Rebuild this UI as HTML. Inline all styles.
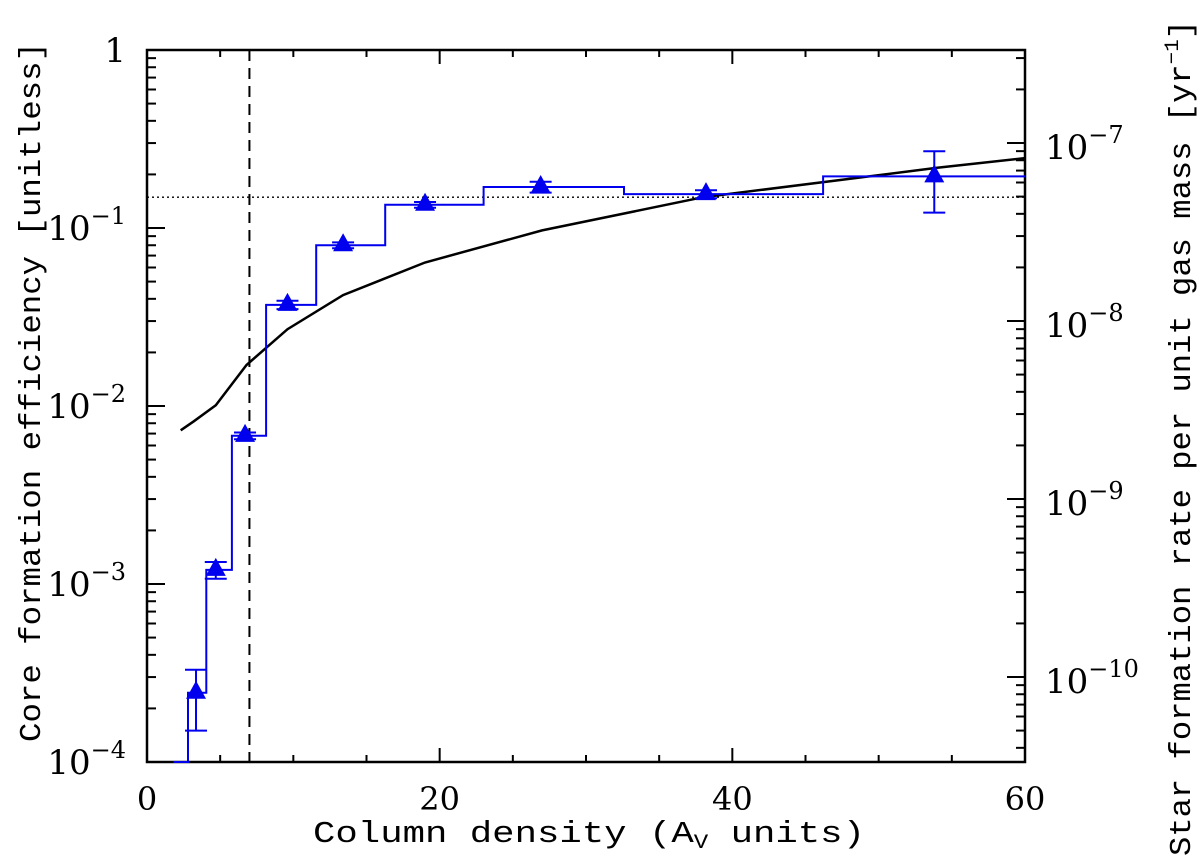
<!DOCTYPE html>
<html><head><meta charset="utf-8"><style>
html,body{margin:0;padding:0;background:#fff;}
svg{display:block;font-family:"DejaVu Serif","Liberation Serif",serif;}
.ttl{font-family:"Liberation Mono","DejaVu Sans Mono",monospace;}
</style></head><body>
<svg id="chart" width="1200" height="858" viewBox="0 0 1200 858" xmlns="http://www.w3.org/2000/svg">
<g id="axes"></g>
<g id="marks"></g>
<text class="ttl" x="313" y="842" font-size="31" textLength="552" lengthAdjust="spacingAndGlyphs">Column density (A<tspan font-size="20" dy="6">V</tspan><tspan dy="-6"> units)</tspan></text>
<text class="ttl" transform="translate(40,742) rotate(-90)" font-size="31" textLength="700" lengthAdjust="spacingAndGlyphs">Core formation efficiency [unitless]</text>
<text class="ttl" transform="translate(1190,856) rotate(-90)" font-size="31" textLength="836" lengthAdjust="spacingAndGlyphs">Star formation rate per unit gas mass [yr<tspan font-size="20" dy="-12">−1</tspan><tspan dy="12">]</tspan></text>
</svg>
<script>
const binEdges=[1.8,2.8,4.05,5.8,8.14,11.56,16.28,23.0,32.6,46.2,60];
const binValues=[1e-4,2.45e-4,1.2e-3,6.8e-3,0.037,0.08,0.135,0.17,0.155,0.195];
const pointX=[3.35,4.7,6.7,9.6,13.4,19,26.9,38.2,53.8];
const pointY=[2.45e-4,1.2e-3,6.8e-3,0.037,0.08,0.135,0.17,0.155,0.195];
const errLow=[1.5e-4,1.07e-3,6.5e-3,0.035,0.077,0.13,0.158,0.147,0.122];
const errHigh=[3.3e-4,1.33e-3,7.1e-3,0.039,0.083,0.14,0.182,0.163,0.27];
const curveX=[2.3,3.2,4.7,6.8,9.6,13.4,19,27,38,54,60];
const curveY=[0.0073,0.0082,0.0101,0.017,0.027,0.042,0.064,0.097,0.149,0.218,0.247];
const xTicks=[0,20,40,60];
const yTickExp=[0,-1,-2,-3,-4];
const y2TickExp=[-7,-8,-9,-10];
const dottedLevel=0.149;
const dashedX=7.0;

const NS="http://www.w3.org/2000/svg";
const L=147,R=1025,T=50,B=762,DEC=178;
const xs=v=>L+(v-0)*(R-L)/60;
const ys=v=>T-DEC*Math.log10(v);
const y2s=v=>143-DEC*(Math.log10(v)+7);
const axes=document.getElementById('axes'),marks=document.getElementById('marks');
function mk(tag,attrs,parent){const e=document.createElementNS(NS,tag);for(const k in attrs)e.setAttribute(k,attrs[k]);parent.appendChild(e);return e;}

let f=mk('rect',{x:L,y:T,width:R-L,height:B-T,fill:'none',stroke:'#000','stroke-width':2.5},axes);



for(let v=0;v<=60;v+=5){const maj=v%20===0;const len=maj?14:7;
 let t=mk('line',{x1:xs(v),x2:xs(v),y1:B,y2:B-len,stroke:'#000','stroke-width':2},axes);
 
 
 let t2=mk('line',{x1:xs(v),x2:xs(v),y1:T,y2:T+len,stroke:'#000','stroke-width':2},axes);
 
 }
xTicks.forEach(v=>{let t=mk('text',{x:xs(v),y:810,'font-size':32,'text-anchor':'middle'},axes);t.textContent=v;
 
 });
for(let e=-4;e<0;e++){for(let m=1;m<=10;m++){const v=m*Math.pow(10,e);const maj=(m===1||m===10);const len=maj?18:9;
 let t=mk('line',{x1:L,x2:L+len,y1:ys(v),y2:ys(v),stroke:'#000','stroke-width':2},axes);
 
 }}
yTickExp.forEach(e=>{let t=mk('text',{x:126,y:ys(Math.pow(10,e))+12,'font-size':34,'text-anchor':'end'},axes);
 if(e===0){t.textContent='1';}else{t.textContent='10';let s=mk('tspan',{dy:-16,'font-size':24},t);s.textContent='−'+(-e);}
 
 });
for(let e=-11;e<-6;e++){for(let m=1;m<=10;m++){const v=m*Math.pow(10,e);const y=y2s(v);if(y<T||y>B)continue;const maj=(m===1);const len=maj?18:9;
 let t=mk('line',{x1:R,x2:R-len,y1:y,y2:y,stroke:'#000','stroke-width':2},axes);
 
 }}
y2TickExp.forEach(e=>{let t=mk('text',{x:1045,y:y2s(Math.pow(10,e))+16,'font-size':34},axes);t.textContent='10';
 let s=mk('tspan',{dy:-16,'font-size':24},t);s.textContent='−'+(-e);
 
 });

let dl=mk('line',{x1:L,x2:R,y1:ys(dottedLevel),y2:ys(dottedLevel),stroke:'#000','stroke-width':1.3,'stroke-dasharray':'2,3'},marks);


let vl=mk('line',{x1:xs(dashedX),x2:xs(dashedX),y1:T,y2:B,stroke:'#000','stroke-width':2,'stroke-dasharray':'11,7'},marks);



let cp=curveX.map((x,i)=>(i?'L':'M')+xs(x).toFixed(1)+','+ys(curveY[i]).toFixed(1)).join(' ');
let cl=mk('path',{d:cp,fill:'none',stroke:'#000','stroke-width':2.5},marks);



let d='';binValues.forEach((v,i)=>{const y=Math.min(ys(v),B);d+=(i?'L':'M')+xs(binEdges[i]).toFixed(1)+','+y.toFixed(1)+' L'+xs(binEdges[i+1]).toFixed(1)+','+y.toFixed(1)+' ';});
let sp=mk('path',{d:d,fill:'none',stroke:'#0000ee','stroke-width':2},marks);



pointX.forEach((x,i)=>{const px=xs(x),py=ys(pointY[i]),lo=ys(errLow[i]),hi=ys(errHigh[i]);
 let g=mk('g',{stroke:'#0000ee','stroke-width':2},marks);
 
 
 mk('line',{x1:px,x2:px,y1:lo,y2:hi},g);
 mk('line',{x1:px-11,x2:px+11,y1:lo,y2:lo},g);
 mk('line',{x1:px-11,x2:px+11,y1:hi,y2:hi},g);
 let tr=mk('polygon',{points:`${px-10},${py+6} ${px+10},${py+6} ${px},${py-12}`,fill:'#0000ee'},marks);
 
 });
</script>
</body></html>
